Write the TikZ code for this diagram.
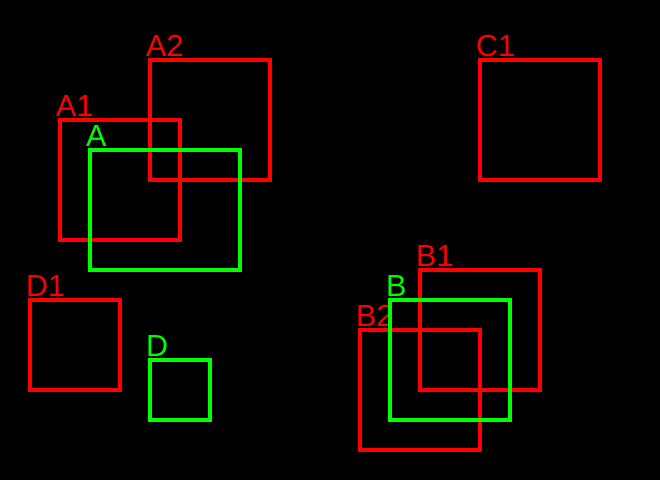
\documentclass[tikz,border=0pt]{standalone}
\usepackage{fontspec}
\setmainfont{Liberation Sans}
\definecolor{boxred}{RGB}{255,0,0}
\definecolor{boxgreen}{RGB}{0,255,0}
\tikzset{
  redbox/.style={draw=boxred, line width=4.5pt},
  greenbox/.style={draw=boxgreen, line width=4.5pt},
  lbl/.style={inner sep=0pt, anchor=base west, font=\fontsize{30.5}{30}\selectfont},
}
\begin{document}
\begin{tikzpicture}[x=1pt,y=-1pt]
\fill[black] (0,0) rectangle (660,480);
\useasboundingbox (0,0) rectangle (660,480);
% red boxes
\draw[redbox] (150,60) rectangle (270,180);
\node[lbl, text=boxred] (lA2) at (146,56) {A2};
\draw[redbox] (60,120) rectangle (180,240);
\node[lbl, text=boxred] (lA1) at (56,116) {A1};
\draw[redbox] (480,60) rectangle (600,180);
\node[lbl, text=boxred] (lC1) at (476,56) {C1};
\draw[redbox] (30,300) rectangle (120,390);
\node[lbl, text=boxred] (lD1) at (26,296) {D1};
\draw[redbox] (420,270) rectangle (540,390);
\node[lbl, text=boxred] (lB1) at (416,266) {B1};
\draw[redbox] (360,330) rectangle (480,450);
\node[lbl, text=boxred] (lB2) at (356,326) {B2};
% green boxes
\draw[greenbox] (90,150) rectangle (240,270);
\node[lbl, text=boxgreen] (lA) at (86,146) {A};
\draw[greenbox] (150,360) rectangle (210,420);
\node[lbl, text=boxgreen] (lD) at (146,356) {D};
\draw[greenbox] (390,300) rectangle (510,420);
\node[lbl, text=boxgreen] (lB) at (386,296) {B};
\end{tikzpicture}
\end{document}
